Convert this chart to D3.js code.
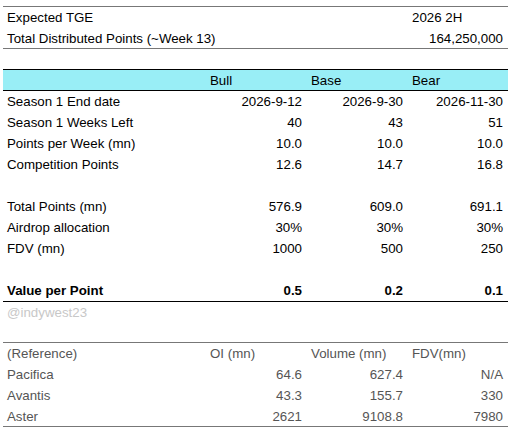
<!DOCTYPE html><html><head><meta charset="utf-8"><script src="https://cdn.jsdelivr.net/npm/d3@7"></script>
<style>body{margin:0;background:#fff}text{font-family:"Liberation Sans",Arial,sans-serif;font-size:13.3px}</style></head><body><svg id="c" width="511" height="429"></svg><script>
const topLabels=["Expected TGE","Total Distributed Points (~Week 13)"];
const topValues=["2026 2H","164,250,000"];
const scenarios=["Bull","Base","Bear"];
const rowLabels=["Season 1 End date","Season 1 Weeks Left","Points per Week (mn)","Competition Points","","Total Points (mn)","Airdrop allocation","FDV (mn)","","Value per Point"];
const bull=["2026-9-12","40","10.0","12.6","","576.9","30%","1000","","0.5"];
const base=["2026-9-30","43","10.0","14.7","","609.0","30%","500","","0.2"];
const bear=["2026-11-30","51","10.0","16.8","","691.1","30%","250","","0.1"];
const refHeaders=["(Reference)","OI (mn)","Volume (mn)","FDV(mn)"];
const refNames=["Pacifica","Avantis","Aster"];
const refOI=["64.6","43.3","2621"];
const refVol=["627.4","155.7","9108.8"];
const refFDV=["N/A","330","7980"];
const svg=d3.select("#c");
const L=3,R=508,rh=21;
const colRight=[302,403,503],colLeft=[210,311,412];
function hline(y,c,w){svg.append("line").attr("x1",L).attr("x2",R).attr("y1",y).attr("y2",y).attr("stroke",c).attr("stroke-width",w||1);}
function txt(x,y,t,o){const e=svg.append("text").attr("x",x).attr("y",y).attr("dy","0.35em").text(t).attr("fill",(o&&o.fill)||"#000");if(o&&o.anchor)e.attr("text-anchor",o.anchor);if(o&&o.bold)e.attr("font-weight","bold");return e;}
const yTop=d3.scalePoint().domain(d3.range(topLabels.length)).range([17,38]);
hline(6.5,"#777");
topLabels.forEach((l,i)=>{txt(7,yTop(i),l);});
txt(colLeft[2],yTop(0),topValues[0]);
txt(503,yTop(1),topValues[1],{anchor:"end"});
hline(48.5,"#777");
svg.append("rect").attr("x",L).attr("y",69).attr("width",R-L).attr("height",21).attr("fill","#99EEF6");
hline(69.5,"#000");hline(90.5,"#000");
scenarios.forEach((s,i)=>txt(colLeft[i],80,s));
const yMain=d3.scaleLinear().domain([0,rowLabels.length-1]).range([101,101+rh*(rowLabels.length-1)]);
const cols=[bull,base,bear];
rowLabels.forEach((l,i)=>{const b=i===rowLabels.length-1;txt(7,yMain(i),l,{bold:b});cols.forEach((c,j)=>txt(colRight[j],yMain(i),c[i],{anchor:"end",bold:b}));});
hline(301.5,"#000");
txt(7,312,"@indywest23",{fill:"#c8c8c8"});
hline(342.5,"#777");
const g="#555";
refHeaders.forEach((h,i)=>txt(i===0?7:colLeft[i-1],353,h,{fill:g}));
const yRef=d3.scaleLinear().domain([0,refNames.length-1]).range([374,374+rh*(refNames.length-1)]);
refNames.forEach((n,i)=>{txt(7,yRef(i),n,{fill:g});[refOI,refVol,refFDV].forEach((c,j)=>txt(colRight[j],yRef(i),c[i],{anchor:"end",fill:g}));});
hline(426.5,"#777");
</script></body></html>
